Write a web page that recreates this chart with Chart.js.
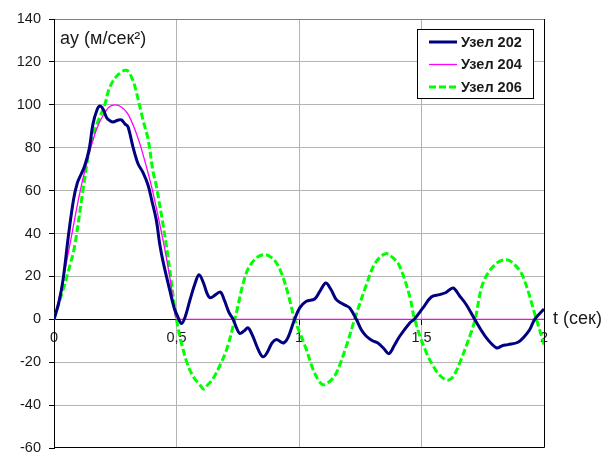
<!DOCTYPE html>
<html>
<head>
<meta charset="utf-8">
<script src="https://cdn.jsdelivr.net/npm/chart.js@4/dist/chart.umd.min.js"></script>
<style>
  html, body { margin: 0; padding: 0; background: #fff; }
  #c { display: block; }
</style>
</head>
<body>
<canvas id="c" width="615" height="452"></canvas>
<script>
// Time axis (s) and vertical accelerations ay (m/s^2) for three nodes
const tNode202 = [0, 0.02, 0.037, 0.06, 0.08, 0.095, 0.11, 0.125, 0.143, 0.159, 0.175, 0.187, 0.2, 0.215, 0.23, 0.241, 0.26, 0.275, 0.29, 0.302, 0.322, 0.343, 0.363, 0.384, 0.4, 0.418, 0.431, 0.445, 0.472, 0.49, 0.506, 0.52, 0.535, 0.555, 0.575, 0.592, 0.61, 0.625, 0.638, 0.66, 0.679, 0.695, 0.715, 0.731, 0.745, 0.758, 0.775, 0.792, 0.81, 0.835, 0.853, 0.87, 0.89, 0.908, 0.925, 0.938, 0.955, 0.982, 1.003, 1.03, 1.064, 1.085, 1.109, 1.13, 1.15, 1.166, 1.19, 1.207, 1.234, 1.255, 1.275, 1.3, 1.322, 1.345, 1.367, 1.39, 1.411, 1.452, 1.472, 1.506, 1.54, 1.574, 1.6, 1.629, 1.655, 1.683, 1.717, 1.765, 1.806, 1.83, 1.853, 1.894, 1.92, 1.942, 1.962, 2.0];
const node202 = [0, 8, 18.5, 40, 56, 63.5, 67.5, 71.5, 79, 91, 97.5, 99.4, 98, 94, 92.5, 92, 92.8, 93, 91, 89.8, 80.5, 72.5, 68.5, 62.5, 55, 46, 35.5, 27, 13.8, 5.5, 1, -2, 1, 9, 16.5, 20.8, 17, 12, 10, 11.5, 12.7, 9, 3, 0, -4, -6.6, -5.5, -4, -7.5, -14.5, -17.5, -15.5, -11, -9.4, -10.5, -11, -8.5, 0, 5.3, 8.4, 9.5, 13, 16.9, 14, 9.5, 7.9, 6.5, 5.3, 0, -5, -7.9, -10, -11, -13.5, -16, -12, -7.9, -1.7, 0.2, 5.3, 10.4, 11.5, 12.5, 14.6, 11, 6.8, 0, -8.7, -13.3, -12.3, -11.8, -10.7, -8, -4.8, 0, 4.8];

const tNode204 = [0, 0.025, 0.05, 0.075, 0.1, 0.125, 0.15, 0.175, 0.2, 0.225, 0.25, 0.275, 0.3, 0.325, 0.35, 0.375, 0.4, 0.425, 0.45, 0.475, 0.5, 2.0];
const node204 = [0, 12, 26, 41, 56, 69, 80, 89, 95, 99, 100, 99, 96, 90, 82, 72, 61, 48, 34, 18, 0, 0];

const tNode206 = [0, 0.037, 0.06, 0.084, 0.118, 0.146, 0.175, 0.207, 0.227, 0.261, 0.296, 0.32, 0.336, 0.363, 0.384, 0.404, 0.418, 0.459, 0.5, 0.52, 0.545, 0.57, 0.595, 0.611, 0.628, 0.65, 0.675, 0.705, 0.738, 0.785, 0.825, 0.864, 0.9, 0.928, 0.955, 0.982, 1.003, 1.03, 1.06, 1.095, 1.125, 1.153, 1.193, 1.227, 1.275, 1.31, 1.354, 1.385, 1.411, 1.452, 1.472, 1.52, 1.561, 1.585, 1.608, 1.63, 1.656, 1.697, 1.719, 1.751, 1.8, 1.846, 1.88, 1.914, 1.969, 2.0];
const node206 = [0, 13.8, 23, 34, 60, 80, 91, 100, 108, 114, 116.1, 112, 106, 93, 84, 69, 62, 34, 0, -11, -21, -27, -30.5, -32.5, -30.5, -27.5, -22, -14, 0, 21.6, 28.5, 30.1, 27.5, 21.6, 12, 0, -6.3, -14.1, -24, -30.4, -29, -24.9, -12.6, 0, 16.1, 26, 30.6, 28.5, 24.7, 10.7, 0, -15.6, -24.2, -27.2, -28.4, -26.5, -20.3, -7.9, 0, 16.9, 25.5, 27.8, 25.5, 20, 0, -11.8];

const seriesLabels = ['Узел 202', 'Узел 204', 'Узел 206'];
const xTickValues = [0, 0.5, 1, 1.5, 2];
const yTickValues = [-60, -40, -20, 0, 20, 40, 60, 80, 100, 120, 140];
const yAxisTitle = 'ay (м/сек²)';
const xAxisTitle = 't (сек)';

const FONT = 'Arial, "Liberation Sans", Helvetica, sans-serif';
const TEXT = '#1a1a1a';
const GRID = '#b3b3b3';

const toPoints = (ts, vs) => ts.map((t, i) => ({ x: t, y: vs[i] }));

// Black frame on the bottom and right of the plot area
const framePlugin = {
  id: 'frame',
  beforeDatasetsDraw(chart) {
    const { ctx, chartArea: a } = chart;
    ctx.save();
    ctx.strokeStyle = '#000';
    ctx.lineWidth = 1;
    ctx.beginPath();
    const r = Math.round(a.right) + 0.5;
    const b = Math.round(a.bottom) - 0.5;
    ctx.moveTo(Math.round(a.left), b);
    ctx.lineTo(r, b);
    ctx.moveTo(r, Math.round(a.top));
    ctx.lineTo(r, b);
    ctx.stroke();
    ctx.restore();
  }
};

// Axis captions and boxed legend
const annotatePlugin = {
  id: 'annotate',
  afterDatasetsDraw(chart) {
    const { ctx } = chart;
    ctx.save();
    ctx.fillStyle = TEXT;
    ctx.font = 'normal 400 18px ' + FONT;
    ctx.textBaseline = 'middle';
    ctx.textAlign = 'left';
    ctx.fillText(yAxisTitle, 60, 39);
    ctx.fillText(xAxisTitle, 553, 319);

    const bx = 417.5, by = 29.5, bw = 116, bh = 69;
    ctx.fillStyle = '#fff';
    ctx.fillRect(bx, by, bw, bh);
    ctx.strokeStyle = '#000';
    ctx.lineWidth = 1;
    ctx.strokeRect(bx, by, bw, bh);

    chart.data.datasets.forEach((ds, i) => {
      const ly = 42 + i * 22.5;
      ctx.beginPath();
      ctx.setLineDash(ds.borderDash || []);
      ctx.strokeStyle = ds.borderColor;
      ctx.lineWidth = ds.borderWidth;
      ctx.moveTo(429, ly);
      ctx.lineTo(457, ly);
      ctx.stroke();
      ctx.setLineDash([]);
      ctx.fillStyle = TEXT;
      ctx.font = 'normal 700 14.5px ' + FONT;
      ctx.textAlign = 'left';
      ctx.fillText(ds.label, 461, ly + 0.5);
    });
    ctx.restore();
  }
};

new Chart(document.getElementById('c'), {
  type: 'line',
  data: {
    datasets: [
      {
        label: seriesLabels[0],
        data: toPoints(tNode202, node202),
        borderColor: '#000080',
        borderWidth: 3,
        pointRadius: 0,
        tension: 0.35,
        fill: false
      },
      {
        label: seriesLabels[1],
        data: toPoints(tNode204, node204),
        borderColor: '#ff00ff',
        borderWidth: 1.3,
        pointRadius: 0,
        cubicInterpolationMode: 'monotone',
        fill: false
      },
      {
        label: seriesLabels[2],
        data: toPoints(tNode206, node206),
        borderColor: '#00ff00',
        borderWidth: 3,
        borderDash: [7, 3],
        borderCapStyle: 'butt',
        pointRadius: 0,
        tension: 0.35,
        fill: false
      }
    ]
  },
  options: {
    responsive: false,
    animation: false,
    devicePixelRatio: 1,
    layout: { padding: { left: 0, top: 19, right: 71, bottom: 4 } },
    plugins: {
      legend: { display: false },
      tooltip: { enabled: false },
      title: { display: false }
    },
    scales: {
      x: {
        type: 'linear',
        position: { y: 0 },
        min: 0,
        max: 2,
        afterBuildTicks: (s) => { s.ticks = xTickValues.map(v => ({ value: v })); },
        afterFit: (s) => { s.height = 0; s.paddingLeft = 0; s.paddingRight = 0; s.paddingTop = 0; s.paddingBottom = 0; },
        ticks: {
          autoSkip: false,
          maxRotation: 0,
          padding: 5,
          color: TEXT,
          font: { family: FONT, size: 14.5 },
          callback: (v) => String(v).replace('.', ',')
        },
        grid: {
          color: (c) => (c.tick && (c.tick.value === 0 || c.tick.value === 2)) ? 'rgba(0,0,0,0)' : GRID,
          lineWidth: 1,
          tickLength: 5,
          tickColor: '#000'
        },
        border: { display: true, color: '#000', width: 1 }
      },
      y: {
        type: 'linear',
        position: 'left',
        min: -60,
        max: 140,
        afterBuildTicks: (s) => { s.ticks = yTickValues.map(v => ({ value: v })); },
        afterFit: (s) => { s.width = 54; s.paddingTop = 0; s.paddingBottom = 0; },
        ticks: {
          autoSkip: false,
          padding: 8,
          color: TEXT,
          font: { family: FONT, size: 14.5 },
          callback: (v) => String(v)
        },
        grid: {
          color: (c) => {
            if (!c.tick) return GRID;
            if (c.tick.value === 0 || c.tick.value === -60) return 'rgba(0,0,0,0)';
            if (c.tick.value === 140) return '#808080';
            return GRID;
          },
          lineWidth: 1,
          tickLength: 5,
          tickColor: '#000'
        },
        border: { display: true, color: '#000', width: 1 }
      }
    }
  },
  plugins: [framePlugin, annotatePlugin]
});
</script>
</body>
</html>
